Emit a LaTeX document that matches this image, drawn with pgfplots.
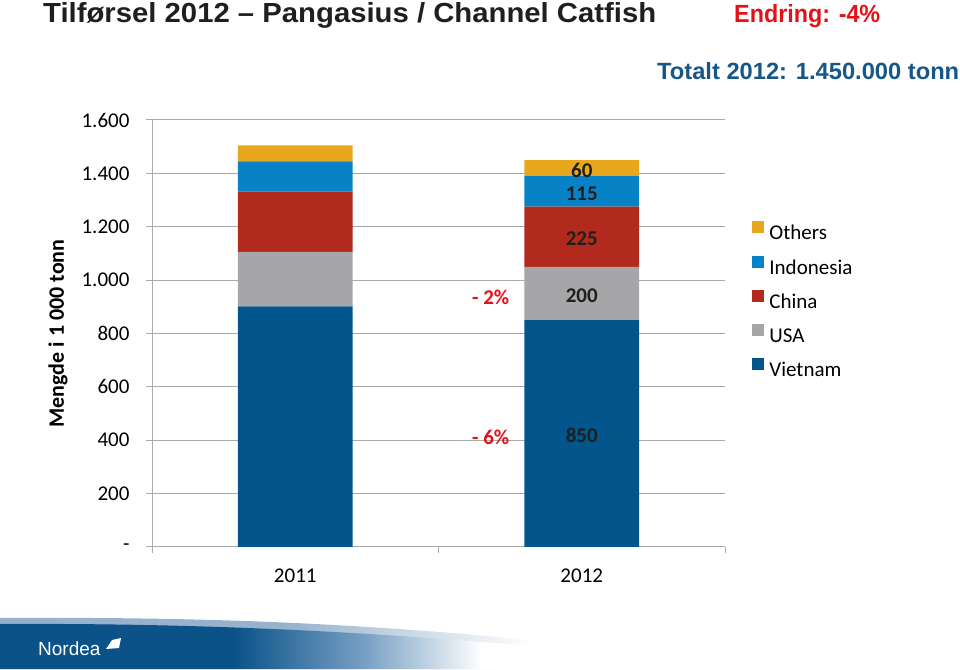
\documentclass[border=0pt]{standalone}
\usepackage{pgfplots}
\pgfplotsset{compat=1.18}
\usepackage{graphicx}
\usepackage{fontspec}
\setmainfont{Carlito}
\newfontfamily\arialfont{Liberation Sans}
\definecolor{cViet}{RGB}{2,86,140}
\definecolor{cUSA}{RGB}{166,166,169}
\definecolor{cChina}{RGB}{177,42,29}
\definecolor{cIndo}{RGB}{8,130,199}
\definecolor{cOther}{RGB}{232,168,30}
\definecolor{cRed}{RGB}{227,18,26}
\definecolor{cTot}{RGB}{22,86,136}
\definecolor{axgray}{RGB}{170,170,170}
\definecolor{nblue}{RGB}{10,82,136}
\definecolor{nmid}{RGB}{120,160,196}
\definecolor{nlight}{RGB}{150,178,204}
\pgfdeclarehorizontalshading{nordeadark}{100bp}{color(0bp)=(nblue); color(41bp)=(nblue); color(50bp)=(nmid); color(58bp)=(white); color(100bp)=(white)}
\pgfdeclarehorizontalshading{nordealight}{100bp}{color(0bp)=(nlight); color(45bp)=(nlight); color(62bp)=(white); color(100bp)=(white)}
\pgfplotsset{
  seglabel/.style={nodes near coords, point meta=explicit symbolic,
    nodes near coords style={anchor=center, yshift=-2pt, font=\bfseries\fontsize{21}{24}\selectfont, text=black!88}},
}
\begin{document}
\begin{tikzpicture}[x=1pt,y=1pt]
\path[use as bounding box] (0,0) rectangle (960,669);
% footer band
\path[shading=nordealight] (0,0) -- (0,51) .. controls (200,52) and (400,48) .. (700,10) -- (720,0) -- cycle;
\path[shading=nordeadark] (0,0) -- (0,45) .. controls (200,46) and (420,38) .. (720,4) -- (730,0) -- cycle;
\node[anchor=base west, inner sep=0pt, text=white] at (38,14) {\arialfont\fontsize{19}{22}\selectfont Nordea};
\fill[white] (106,20) -- (112,29) -- (121,31) -- (119,21) -- cycle;
% titles
\node[anchor=base west, inner sep=0pt, text=black!88] at (43,646) {\resizebox{613pt}{20pt}{\arialfont\bfseries Tilførsel 2012 – Pangasius / Channel Catfish}};
\node[anchor=base west, inner sep=0pt, text=cRed] at (734,646) {\resizebox{146pt}{18pt}{\arialfont\bfseries Endring: -4\%}};
\node[anchor=base west, inner sep=0pt, text=cTot] at (657,589) {\resizebox{302pt}{17pt}{\arialfont\bfseries Totalt 2012: 1.450.000 tonn}};
\begin{axis}[
  at={(152pt,122pt)}, anchor=south west,
  scale only axis, width=573pt, height=427pt,
  xmin=-0.5, xmax=1.5, ymin=0, ymax=1600,
  ybar stacked, bar width=0.4,
  axis x line*=bottom, axis y line*=left,
  axis line style={draw=axgray, line width=1pt},
  ymajorgrids, grid style={draw=axgray, line width=1pt},
  ytick={0,200,...,1600},
  yticklabels={-,200,400,600,800,1.000,1.200,1.400,1.600},
  xtick={-0.5,0.5,1.5}, xticklabels={},
  extra x ticks={0,1}, extra x tick labels={2011,2012},
  extra x tick style={major tick length=0pt},
  major tick length=6pt,
  tick align=outside,
  tick style={draw=axgray, line width=1pt},
  tick label style={font=\fontsize{21}{24}\selectfont},
  yticklabel style={xshift=-13pt},
  xticklabel style={yshift=-18pt},
  ylabel={Mengde i 1 000 tonn},
  every axis y label/.style={at={(axis description cs:-0.164,0.5)}, rotate=90, anchor=center, font=\bfseries\fontsize{22}{25}\selectfont},
  reverse legend,
  legend cell align=left,
  legend image code/.code={\fill[#1] (0pt,0pt) rectangle (12pt,12pt);},
  legend style={at={(axis description cs:1.0475,0.763)}, anchor=north west, draw=none, fill=none,
    font=\fontsize{21}{24}\selectfont, row sep=12.2pt, column sep=3pt, inner sep=0pt},
  clip=false,
]
\addplot[fill=cViet, draw=none, seglabel] coordinates {(0,902) [] (1,850) [850]};
\addlegendentry{Vietnam}
\addplot[fill=cUSA, draw=none, seglabel] coordinates {(0,204) [] (1,200) [200]};
\addlegendentry{USA}
\addplot[fill=cChina, draw=none, seglabel] coordinates {(0,226) [] (1,225) [225]};
\addlegendentry{China}
\addplot[fill=cIndo, draw=none, seglabel] coordinates {(0,113) [] (1,115) [115]};
\addlegendentry{Indonesia}
\addplot[fill=cOther, draw=none, seglabel] coordinates {(0,60) [] (1,60) [60]};
\addlegendentry{Others}
\node[font=\bfseries\fontsize{21}{24}\selectfont, text=cRed] at (axis cs:0.682,937) {- 2\%};
\node[font=\bfseries\fontsize{21}{24}\selectfont, text=cRed] at (axis cs:0.682,412) {- 6\%};
\end{axis}
\end{tikzpicture}
\end{document}
